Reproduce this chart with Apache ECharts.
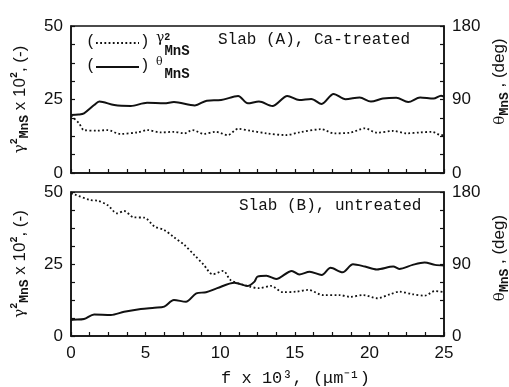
<!DOCTYPE html>
<html>
<head>
<meta charset="utf-8">
<script src="https://cdn.jsdelivr.net/npm/echarts@6/dist/echarts.min.js"></script>
<style>html,body{margin:0;padding:0;background:#fff}#c{width:509px;height:387px}</style>
</head>
<body>
<div id="c"></div>
<script>
// Slab (A), Ca-treated
var topGammaF = [0, 0.54, 0.87, 1.77, 2.44, 3.3, 4.45, 5.1, 6.0, 6.9, 7.6, 8.15, 8.9, 9.7, 10.5, 11.2, 12.1, 13.1, 14.4, 15.3, 16.8, 17.6, 18.7, 19.7, 20.5, 21.6, 22.5, 23.4, 24.2, 24.8, 25];
var topGammaV = [19.5, 16.9, 14.6, 14.4, 14.6, 13.3, 13.8, 14.6, 13.8, 14.0, 13.5, 14.6, 13.3, 14.0, 12.9, 15.0, 14.3, 13.5, 12.9, 13.8, 14.9, 13.5, 13.7, 15.2, 13.7, 14.3, 13.5, 13.8, 14.0, 12.9, 12.9];
var topThetaF = [0, 0.5, 0.87, 1.55, 1.9, 2.9, 4.0, 5.1, 6.25, 6.9, 8.3, 9.1, 10.06, 11.2, 11.85, 12.6, 13.5, 14.5, 15.3, 16.1, 16.8, 17.6, 18.4, 19.35, 20.1, 20.9, 21.8, 22.6, 23.4, 24.3, 24.8, 25];
var topThetaV = [70.9, 71.6, 73.1, 83.2, 87.5, 83.2, 82.1, 86.0, 85.3, 86.8, 82.8, 88.6, 89.3, 94.3, 85.3, 87.5, 82.1, 94.3, 89.3, 90.7, 84.6, 96.8, 90.4, 92.5, 87.5, 91.1, 92.2, 86.8, 92.5, 91.1, 94.7, 93.6];
// Slab (B), untreated
var botGammaF = [0, 0.2, 1.3, 1.77, 2.44, 3.1, 3.56, 4.2, 4.9, 5.6, 6.25, 6.9, 7.6, 8.27, 8.9, 9.5, 10.2, 10.7, 11.6, 12.0, 12.6, 13.4, 14.2, 15.1, 15.9, 16.9, 18.0, 18.7, 19.6, 20.5, 21.4, 22.0, 22.9, 23.7, 24.4, 25];
var botGammaV = [49.5, 49.2, 47.2, 47.0, 45.5, 42.6, 43.4, 41.2, 41.1, 38.0, 36.8, 34.3, 31.6, 28.1, 24.7, 21.4, 22.6, 19.4, 17.7, 17.1, 16.6, 17.4, 15.2, 15.4, 16.0, 14.2, 14.2, 13.6, 14.2, 13.1, 14.5, 15.4, 14.5, 14.0, 15.6, 15.2];
var botThetaF = [0, 0.09, 0.87, 1.55, 2.67, 3.56, 4.68, 5.6, 6.25, 6.9, 7.7, 8.4, 9.05, 9.8, 10.95, 11.85, 12.3, 12.5, 13.1, 13.75, 14.8, 15.3, 16.0, 16.8, 17.4, 18.2, 18.9, 19.7, 20.5, 21.6, 22.0, 22.9, 23.7, 24.4, 25];
var botThetaV = [19.0, 20.2, 21.2, 27.0, 26.3, 30.2, 33.8, 35.3, 36.7, 45.0, 42.8, 53.3, 54.7, 59.8, 66.6, 62.6, 68.0, 74.2, 75.2, 71.3, 81.4, 77.0, 80.3, 76.3, 85.3, 79.6, 89.6, 86.8, 83.2, 86.8, 83.9, 88.9, 91.8, 88.9, 88.2];
// axis tick labels
var xTickLabels = [0, 5, 10, 15, 20, 25];
var leftTickLabels = [0, 25, 50];
var rightTickLabels = [0, 90, 180];

function pairs(f, v) { return f.map(function (x, i) { return [x, v[i]]; }); }

var SANS = 'Liberation Sans';
var MONO = 'Liberation Mono';
var BLACK = '#111';

function xAxisDef(gi, showLabels) {
  return {
    type: 'value', gridIndex: gi, min: 0, max: 25, interval: 1.25,
    axisLine: { show: true, lineStyle: { color: BLACK, width: 1.5 } },
    axisTick: { show: true, inside: true, length: 4, lineStyle: { color: BLACK, width: 1.2 } },
    splitLine: { show: false },
    axisLabel: {
      show: showLabels, color: BLACK, fontFamily: SANS, fontSize: 17, margin: 9,
      formatter: function (v) { return xTickLabels.indexOf(v) >= 0 ? String(v) : ''; }
    }
  };
}
function yAxisDef(gi, pos, max, interval, labels, name, namePad) {
  return {
    type: 'value', gridIndex: gi, position: pos, min: 0, max: max, interval: interval,
    axisLine: { show: true, lineStyle: { color: BLACK, width: 1.5 } },
    axisTick: { show: true, inside: true, length: 4, lineStyle: { color: BLACK, width: 1.2 } },
    splitLine: { show: false },
    axisLabel: {
      color: BLACK, fontFamily: SANS, fontSize: 17, margin: 8, padding: [0, 0, 5, 0],
      formatter: function (v) { return labels.indexOf(v) >= 0 ? String(v) : ''; }
    },
    name: name, nameLocation: 'middle', nameRotate: 90, nameGap: 40,
    nameTextStyle: {
      color: BLACK, fontFamily: SANS, fontSize: 17, padding: namePad,
      rich: {
        t: { fontFamily: SANS, fontSize: 17, color: BLACK },
        g: { fontFamily: 'DejaVu Serif', fontSize: 15, color: BLACK },
        sup: { fontFamily: MONO, fontSize: 10, fontWeight: 'bold', color: BLACK, verticalAlign: 'top', lineHeight: 22 },
        sub: { fontFamily: MONO, fontSize: 13, fontWeight: 'bold', color: BLACK, verticalAlign: 'bottom', lineHeight: 22 }
      }
    }
  };
}

var leftName = '{g|γ}{sup|2}{sub|MnS}{t| x 10}{sup|2}{t|, (-)}';
var rightName = '{g|θ}{sub|MnS}{t| , (deg)}';

var dotStyle = { color: BLACK, width: 1.8, type: [1.8, 2.4] };
var solidStyle = { color: BLACK, width: 2 };

var option = {
  backgroundColor: '#fff',
  animation: false,
  grid: [
    { left: 71, right: 65, top: 26, height: 147, show: true, borderColor: BLACK, borderWidth: 1.5, outerBoundsMode: 'none' },
    { left: 71, right: 65, top: 192, height: 144, show: true, borderColor: BLACK, borderWidth: 1.5, outerBoundsMode: 'none' }
  ],
  xAxis: [
    xAxisDef(0, false),
    Object.assign(xAxisDef(1, true), {
      name: 'f x 10³, (μm⁻¹)', nameLocation: 'middle', nameGap: 34,
      nameTextStyle: { color: BLACK, fontFamily: MONO, fontSize: 17, padding: [0, 0, 0, 76] }
    })
  ],
  yAxis: [
    yAxisDef(0, 'left', 50, 6.25, leftTickLabels, leftName, [0, 0, 0, 0]),
    yAxisDef(0, 'right', 180, 22.5, rightTickLabels, rightName, [0, 0, 0, 36]),
    yAxisDef(1, 'left', 50, 6.25, leftTickLabels, leftName, [0, 0, 0, 0]),
    yAxisDef(1, 'right', 180, 22.5, rightTickLabels, rightName, [0, 0, 0, 12])
  ],
  series: [
    { type: 'line', xAxisIndex: 0, yAxisIndex: 0, data: pairs(topGammaF, topGammaV), showSymbol: false, smooth: 0.3, lineStyle: dotStyle },
    { type: 'line', xAxisIndex: 0, yAxisIndex: 1, data: pairs(topThetaF, topThetaV), showSymbol: false, smooth: 0.3, lineStyle: solidStyle },
    { type: 'line', xAxisIndex: 1, yAxisIndex: 2, data: pairs(botGammaF, botGammaV), showSymbol: false, smooth: 0.3, lineStyle: dotStyle },
    { type: 'line', xAxisIndex: 1, yAxisIndex: 3, data: pairs(botThetaF, botThetaV), showSymbol: false, smooth: 0.3, lineStyle: solidStyle }
  ],
  graphic: [
    { type: 'text', left: 218, top: 32, style: { text: 'Slab (A), Ca-treated', fontFamily: MONO, fontSize: 16, fill: BLACK } },
    { type: 'text', left: 239, top: 198, style: { text: 'Slab (B), untreated', fontFamily: MONO, fontSize: 16, fill: BLACK } },
    { type: 'text', left: 86, top: 34, style: { text: '(', fontFamily: MONO, fontSize: 16, fill: BLACK } },
    { type: 'line', shape: { x1: 96, y1: 43, x2: 139, y2: 43 }, style: { stroke: BLACK, lineWidth: 1.8, lineDash: [1.8, 2.4] } },
    { type: 'text', left: 140, top: 34, style: { text: ')', fontFamily: MONO, fontSize: 16, fill: BLACK } },
    { type: 'text', left: 156, top: 31, style: {
      text: '{g|γ}{sup|2}\n{sub| MnS}', rich: {
        g: { fontFamily: 'DejaVu Serif', fontSize: 14, fill: BLACK, lineHeight: 12 },
        sup: { fontFamily: MONO, fontSize: 10, fontWeight: 'bold', fill: BLACK, lineHeight: 12, verticalAlign: 'top' },
        sub: { fontFamily: MONO, fontSize: 14, fontWeight: 'bold', fill: BLACK, lineHeight: 14 }
      } } },
    { type: 'text', left: 86, top: 58, style: { text: '(', fontFamily: MONO, fontSize: 16, fill: BLACK } },
    { type: 'line', shape: { x1: 96, y1: 67, x2: 139, y2: 67 }, style: { stroke: BLACK, lineWidth: 2 } },
    { type: 'text', left: 140, top: 58, style: { text: ')', fontFamily: MONO, fontSize: 16, fill: BLACK } },
    { type: 'text', left: 156, top: 57, style: {
      text: '{g|θ}\n{sub| MnS}', rich: {
        g: { fontFamily: 'DejaVu Serif', fontSize: 11, fill: BLACK, lineHeight: 10 },
        sub: { fontFamily: MONO, fontSize: 14, fontWeight: 'bold', fill: BLACK, lineHeight: 14 }
      } } }
  ]
};

var chart = echarts.init(document.getElementById('c'), null, { renderer: 'canvas' });
chart.setOption(option);
</script>
</body>
</html>
